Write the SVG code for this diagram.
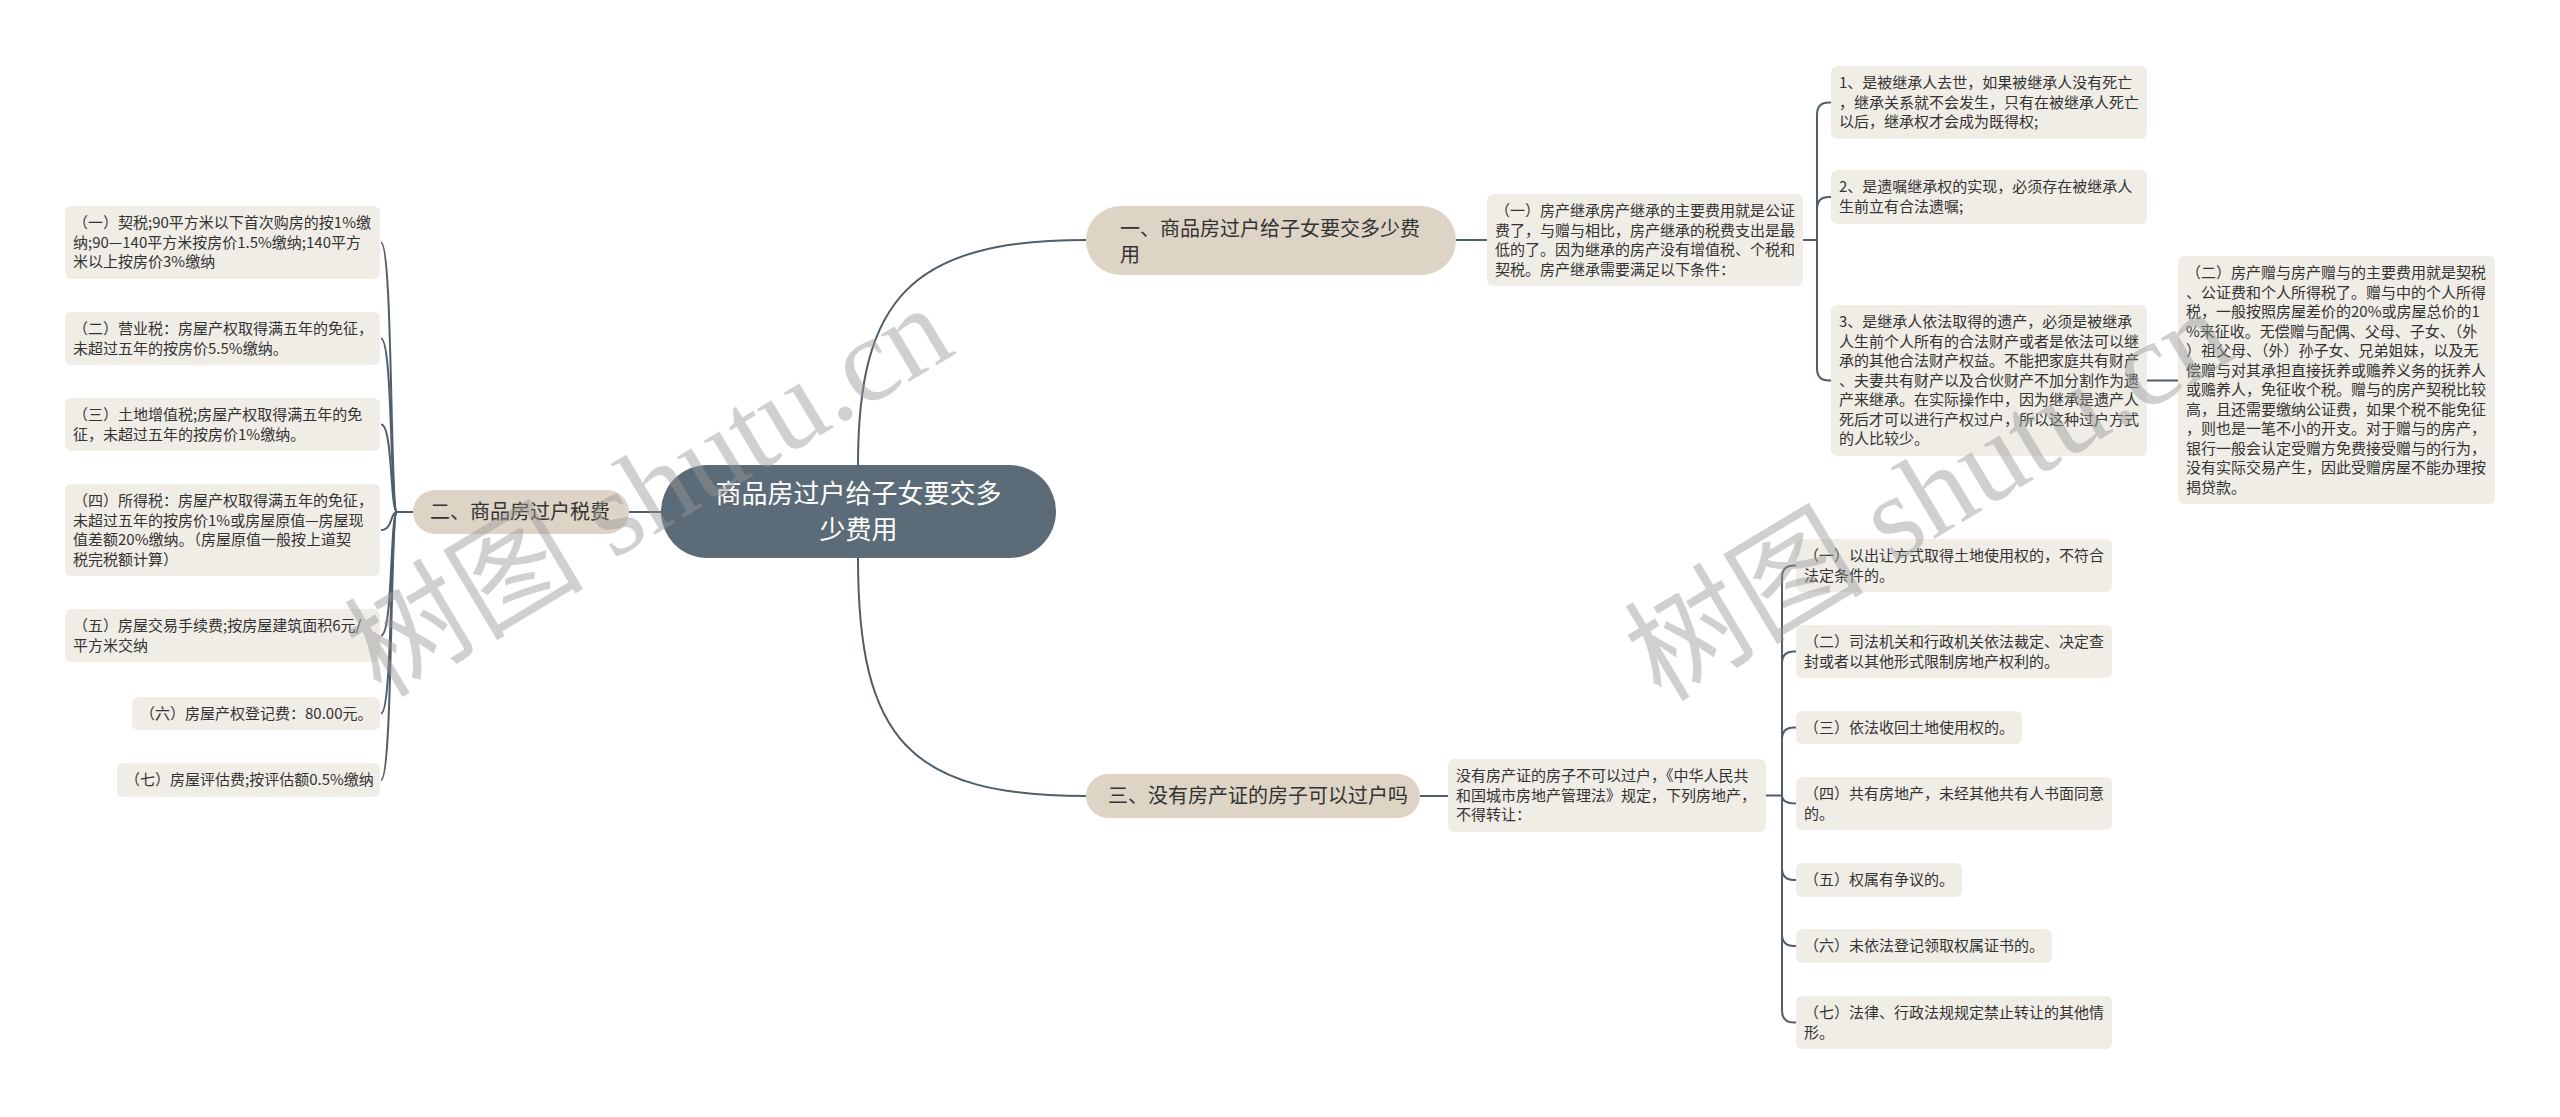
<svg xmlns="http://www.w3.org/2000/svg" width="2560" height="1117" viewBox="0 0 2560 1117">
<style>
.leaf rect{fill:#f0ede6;}
.leaf text{font-family:"Noto Sans CJK SC","Noto Sans",sans-serif;font-size:15px;fill:#333;}
.branch rect{fill:#ddd4c5;}
.branch text{font-family:"Noto Sans CJK SC","Noto Sans",sans-serif;font-size:20px;fill:#333;}
.root rect{fill:#5b6b77;}
.root text{font-family:"Noto Sans CJK SC","Noto Sans",sans-serif;font-size:26px;fill:#fff;text-anchor:middle;}
#connectors path{fill:none;stroke:#4e5e6a;stroke-width:2;}
.wm{font-family:"Liberation Serif","Noto Sans CJK SC",serif;font-size:120px;fill:#999;opacity:0.45;}
</style>
<rect width="2560" height="1117" fill="#fff"/>
<g id="connectors">
<path d="M629 512 H661"/>
<path d="M858 465 C858 300 910 240 1086 240"/>
<path d="M858 558 C858 740 910 796 1086 796"/>
<path d="M413 512 H397"/>
<path d="M397 512 C390 512 393 242.5 381 242.5"/>
<path d="M397 512 C390 512 393 338.5 381 338.5"/>
<path d="M397 512 C390 512 393 424.5 381 424.5"/>
<path d="M397 512 C390 512 393 530 381 530"/>
<path d="M397 512 C390 512 393 635.5 381 635.5"/>
<path d="M397 512 C390 512 393 713.5 381 713.5"/>
<path d="M397 512 C390 512 393 780 381 780"/>
<path d="M1456 240 H1487"/>
<path d="M1803 240 H1817"/>
<path d="M1817 240 V114.5 Q1817 102.5 1829 102.5 H1831"/>
<path d="M1817 240 V209 Q1817 197 1829 197 H1831"/>
<path d="M1817 240 V368.5 Q1817 380.5 1829 380.5 H1831"/>
<path d="M2147 380.5 H2178"/>
<path d="M1420 796 H1448"/>
<path d="M1766 795.5 H1782"/>
<path d="M1782 795.5 V577.5 Q1782 565.5 1794 565.5 H1796"/>
<path d="M1782 795.5 V663.5 Q1782 651.5 1794 651.5 H1796"/>
<path d="M1782 795.5 V739.5 Q1782 727.5 1794 727.5 H1796"/>
<path d="M1782 795.5 C1782 801 1786 803.5 1796 803.5"/>
<path d="M1782 795.5 V868 Q1782 880 1794 880 H1796"/>
<path d="M1782 795.5 V934 Q1782 946 1794 946 H1796"/>
<path d="M1782 795.5 V1010.5 Q1782 1022.5 1794 1022.5 H1796"/>
</g>
<g id="root" class="root">
<rect x="661" y="465" width="395" height="93" rx="46.5"/>
<text x="858.5" y="503">商品房过户给子女要交多</text>
<text x="858.5" y="539">少费用</text>
</g>
<g id="b1" class="branch">
<rect x="1086" y="206" width="370" height="69" rx="34.5"/>
<text x="1120" y="236">一、商品房过户给子女要交多少费</text>
<text x="1120" y="262">用</text>
</g>
<g id="b2" class="branch">
<rect x="413" y="490" width="216" height="44" rx="22"/>
<text x="430" y="519">二、商品房过户税费</text>
</g>
<g id="b3" class="branch">
<rect x="1086" y="774" width="334" height="44" rx="22"/>
<text x="1108" y="803">三、没有房产证的房子可以过户吗</text>
</g>
<g id="l1" class="leaf">
<rect x="65" y="206" width="315" height="73" rx="6"/>
<text x="73" y="228.25"><tspan x="73">（一）契税;90平方米以下首次购房的按1%缴</tspan><tspan x="73" dy="19.5">纳;90—140平方米按房价1.5%缴纳;140平方</tspan><tspan x="73" dy="19.5">米以上按房价3%缴纳</tspan></text>
</g>
<g id="l2" class="leaf">
<rect x="65" y="312" width="315" height="53" rx="6"/>
<text x="73" y="334.25"><tspan x="73">（二）营业税：房屋产权取得满五年的免征，</tspan><tspan x="73" dy="19.5">未超过五年的按房价5.5%缴纳。</tspan></text>
</g>
<g id="l3" class="leaf">
<rect x="65" y="398" width="315" height="53" rx="6"/>
<text x="73" y="420.25"><tspan x="73">（三）土地增值税;房屋产权取得满五年的免</tspan><tspan x="73" dy="19.5">征，未超过五年的按房价1%缴纳。</tspan></text>
</g>
<g id="l4" class="leaf">
<rect x="65" y="484" width="315" height="92" rx="6"/>
<text x="73" y="506.25"><tspan x="73">（四）所得税：房屋产权取得满五年的免征，</tspan><tspan x="73" dy="19.5">未超过五年的按房价1%或房屋原值—房屋现</tspan><tspan x="73" dy="19.5">值差额20%缴纳。（房屋原值一般按上道契</tspan><tspan x="73" dy="19.5">税完税额计算）</tspan></text>
</g>
<g id="l5" class="leaf">
<rect x="65" y="609" width="315" height="53" rx="6"/>
<text x="73" y="631.25"><tspan x="73">（五）房屋交易手续费;按房屋建筑面积6元/</tspan><tspan x="73" dy="19.5">平方米交纳</tspan></text>
</g>
<g id="l6" class="leaf">
<rect x="132" y="697" width="248" height="33" rx="6"/>
<text x="140" y="719.25">（六）房屋产权登记费：80.00元。</text>
</g>
<g id="l7" class="leaf">
<rect x="117" y="763" width="263" height="34" rx="6"/>
<text x="125" y="785.25">（七）房屋评估费;按评估额0.5%缴纳</text>
</g>
<g id="r1" class="leaf">
<rect x="1487" y="194" width="316" height="92" rx="6"/>
<text x="1495" y="216.25"><tspan x="1495">（一）房产继承房产继承的主要费用就是公证</tspan><tspan x="1495" dy="19.5">费了，与赠与相比，房产继承的税费支出是最</tspan><tspan x="1495" dy="19.5">低的了。因为继承的房产没有增值税、个税和</tspan><tspan x="1495" dy="19.5">契税。房产继承需要满足以下条件：</tspan></text>
</g>
<g id="r1c1" class="leaf">
<rect x="1831" y="66" width="316" height="73" rx="6"/>
<text x="1839" y="88.25"><tspan x="1839">1、是被继承人去世，如果被继承人没有死亡</tspan><tspan x="1839" dy="19.5">，继承关系就不会发生，只有在被继承人死亡</tspan><tspan x="1839" dy="19.5">以后，继承权才会成为既得权;</tspan></text>
</g>
<g id="r1c2" class="leaf">
<rect x="1831" y="170" width="316" height="54" rx="6"/>
<text x="1839" y="192.25"><tspan x="1839">2、是遗嘱继承权的实现，必须存在被继承人</tspan><tspan x="1839" dy="19.5">生前立有合法遗嘱;</tspan></text>
</g>
<g id="r1c3" class="leaf">
<rect x="1831" y="305" width="316" height="151" rx="6"/>
<text x="1839" y="327.25"><tspan x="1839">3、是继承人依法取得的遗产，必须是被继承</tspan><tspan x="1839" dy="19.5">人生前个人所有的合法财产或者是依法可以继</tspan><tspan x="1839" dy="19.5">承的其他合法财产权益。不能把家庭共有财产</tspan><tspan x="1839" dy="19.5">、夫妻共有财产以及合伙财产不加分割作为遗</tspan><tspan x="1839" dy="19.5">产来继承。在实际操作中，因为继承是遗产人</tspan><tspan x="1839" dy="19.5">死后才可以进行产权过户，所以这种过户方式</tspan><tspan x="1839" dy="19.5">的人比较少。</tspan></text>
</g>
<g id="r2" class="leaf">
<rect x="2178" y="256" width="317" height="248" rx="6"/>
<text x="2186" y="278.25"><tspan x="2186">（二）房产赠与房产赠与的主要费用就是契税</tspan><tspan x="2186" dy="19.5">、公证费和个人所得税了。赠与中的个人所得</tspan><tspan x="2186" dy="19.5">税，一般按照房屋差价的20%或房屋总价的1</tspan><tspan x="2186" dy="19.5">%来征收。无偿赠与配偶、父母、子女、（外</tspan><tspan x="2186" dy="19.5">）祖父母、（外）孙子女、兄弟姐妹，以及无</tspan><tspan x="2186" dy="19.5">偿赠与对其承担直接抚养或赡养义务的抚养人</tspan><tspan x="2186" dy="19.5">或赡养人，免征收个税。赠与的房产契税比较</tspan><tspan x="2186" dy="19.5">高，且还需要缴纳公证费，如果个税不能免征</tspan><tspan x="2186" dy="19.5">，则也是一笔不小的开支。对于赠与的房产，</tspan><tspan x="2186" dy="19.5">银行一般会认定受赠方免费接受赠与的行为，</tspan><tspan x="2186" dy="19.5">没有实际交易产生，因此受赠房屋不能办理按</tspan><tspan x="2186" dy="19.5">揭贷款。</tspan></text>
</g>
<g id="r3" class="leaf">
<rect x="1448" y="759" width="318" height="73" rx="6"/>
<text x="1456" y="781.25"><tspan x="1456">没有房产证的房子不可以过户，《中华人民共</tspan><tspan x="1456" dy="19.5">和国城市房地产管理法》规定，下列房地产，</tspan><tspan x="1456" dy="19.5">不得转让：</tspan></text>
</g>
<g id="r3c1" class="leaf">
<rect x="1796" y="539" width="316" height="53" rx="6"/>
<text x="1804" y="561.25"><tspan x="1804">（一）以出让方式取得土地使用权的，不符合</tspan><tspan x="1804" dy="19.5">法定条件的。</tspan></text>
</g>
<g id="r3c2" class="leaf">
<rect x="1796" y="625" width="316" height="53" rx="6"/>
<text x="1804" y="647.25"><tspan x="1804">（二）司法机关和行政机关依法裁定、决定查</tspan><tspan x="1804" dy="19.5">封或者以其他形式限制房地产权利的。</tspan></text>
</g>
<g id="r3c3" class="leaf">
<rect x="1796" y="711" width="226" height="33" rx="6"/>
<text x="1804" y="733.25">（三）依法收回土地使用权的。</text>
</g>
<g id="r3c4" class="leaf">
<rect x="1796" y="777" width="316" height="53" rx="6"/>
<text x="1804" y="799.25"><tspan x="1804">（四）共有房地产，未经其他共有人书面同意</tspan><tspan x="1804" dy="19.5">的。</tspan></text>
</g>
<g id="r3c5" class="leaf">
<rect x="1796" y="863" width="166" height="34" rx="6"/>
<text x="1804" y="885.25">（五）权属有争议的。</text>
</g>
<g id="r3c6" class="leaf">
<rect x="1796" y="929" width="256" height="34" rx="6"/>
<text x="1804" y="951.25">（六）未依法登记领取权属证书的。</text>
</g>
<g id="r3c7" class="leaf">
<rect x="1796" y="996" width="316" height="53" rx="6"/>
<text x="1804" y="1018.25"><tspan x="1804">（七）法律、行政法规规定禁止转让的其他情</tspan><tspan x="1804" dy="19.5">形。</tspan></text>
</g>
<g id="watermark">
<text class="wm" transform="translate(381 699) rotate(-31)">树图 shutu.cn</text>
<text class="wm" transform="translate(1661 703) rotate(-31)">树图 shutu.cn</text>
</g>
</svg>
